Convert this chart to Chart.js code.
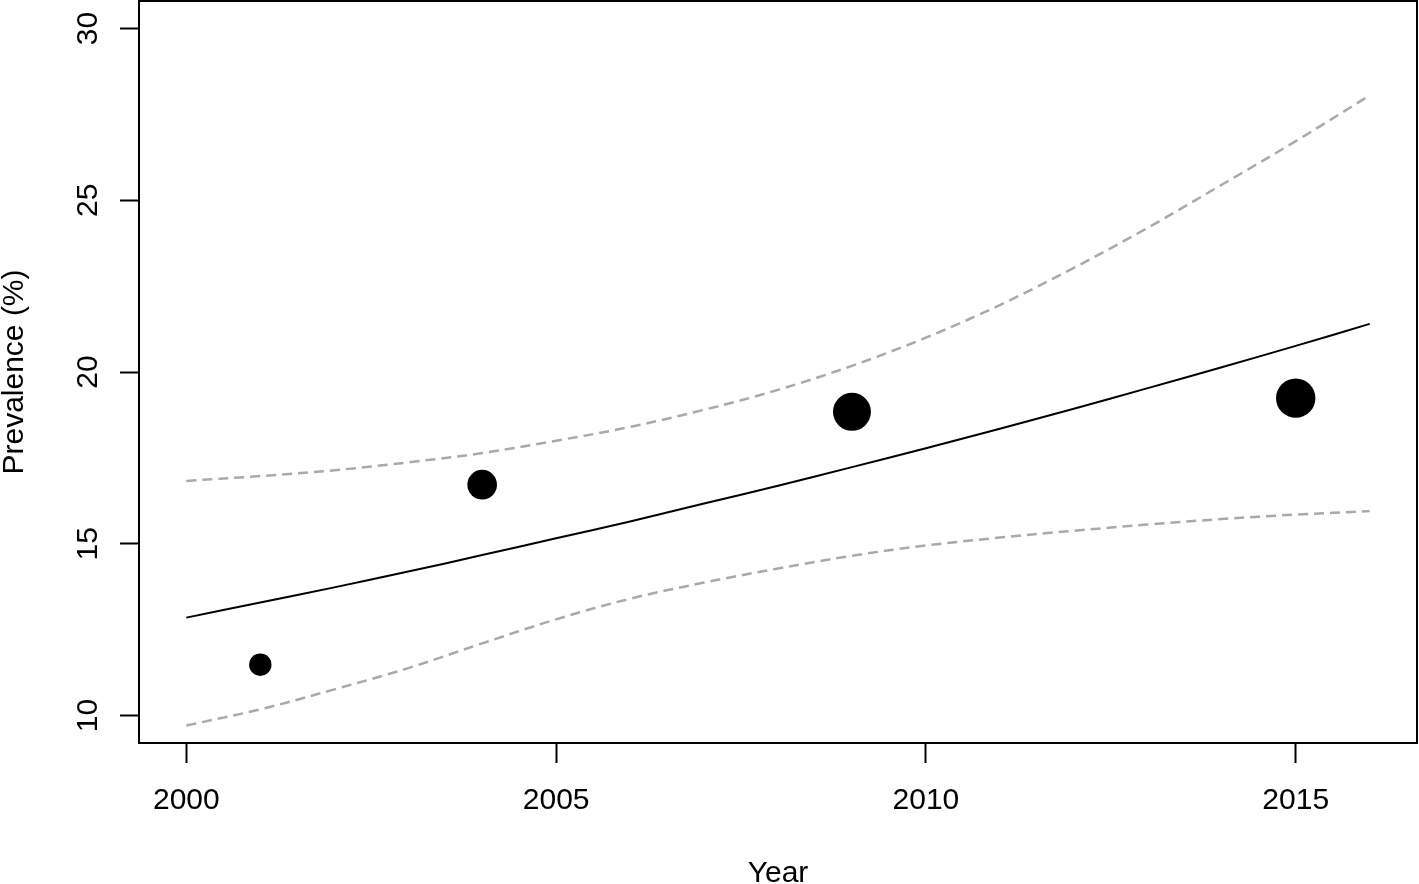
<!DOCTYPE html>
<html>
<head>
<meta charset="utf-8">
<title>Prevalence by year</title>
<script src="https://cdn.jsdelivr.net/npm/chart.js@4.4.1/dist/chart.umd.min.js"></script>
<style>
  html, body { margin: 0; padding: 0; background: #fff; }
  #wrap { width: 1419px; height: 884px; position: relative; }
</style>
</head>
<body>
<div id="wrap"><canvas id="chart"></canvas></div>
<script>
// values
const years = [2000, 2001, 2002, 2003, 2004, 2005, 2006, 2007, 2008, 2009, 2010, 2011, 2012, 2013, 2014, 2015, 2016];
const fitted = [12.85, 13.29, 13.73, 14.19, 14.67, 15.16, 15.65, 16.17, 16.69, 17.23, 17.78, 18.35, 18.93, 19.53, 20.14, 20.76, 21.40];
const upper = [16.83, 16.97, 17.14, 17.37, 17.64, 18.00, 18.40, 18.90, 19.48, 20.18, 21.00, 21.95, 23.03, 24.20, 25.45, 26.72, 28.05];
const lower = [9.71, 10.18, 10.76, 11.38, 12.10, 12.80, 13.40, 13.87, 14.28, 14.65, 14.95, 15.18, 15.38, 15.56, 15.72, 15.85, 15.95];

const surveyYears = [2001, 2004, 2009, 2015];
const surveyPrev = [11.48, 16.72, 18.84, 19.24];

const xTicks = [2000, 2005, 2010, 2015];
const yTicks = [10, 15, 20, 25, 30];

// marker radius (px) per survey point
const markerRadius = [11.2, 14.8, 19, 19.7];

Chart.defaults.font.family = '"Liberation Sans", Arial, Helvetica, sans-serif';
Chart.defaults.color = '#000';

function xy(xs, ys) {
  return xs.map(function (v, i) { return { x: v, y: ys[i] }; });
}

// drop the label overhang padding chart.js adds, so the plot box sits where R put it
function noOverhang(s) {
  s.paddingTop = 0; s.paddingBottom = 0; s.paddingLeft = 0; s.paddingRight = 0;
}

// full box round the plot region, like R's box()
const boxPlugin = {
  id: 'box',
  afterDraw: function (chart) {
    const a = chart.chartArea;
    const ctx = chart.ctx;
    ctx.save();
    ctx.strokeStyle = '#000';
    ctx.lineWidth = 2;
    ctx.strokeRect(a.left, a.top, a.right - a.left, a.bottom - a.top);
    ctx.restore();
  }
};

const fontTick = { size: 30 };
const dash = [10, 6];

new Chart(document.getElementById('chart'), {
  type: 'scatter',
  data: {
    datasets: [
      {
        label: 'Surveys', data: xy(surveyYears, surveyPrev),
        backgroundColor: '#000', borderColor: '#000', borderWidth: 0,
        pointRadius: markerRadius, pointHoverRadius: markerRadius, order: 0
      },
      {
        type: 'line', label: 'Fitted', data: xy(years, fitted),
        borderColor: '#000', borderWidth: 2, pointRadius: 0, tension: 0.35, fill: false, order: 1
      },
      {
        type: 'line', label: 'Upper', data: xy(years, upper),
        borderColor: '#a9a9a9', borderWidth: 2.5, borderDash: dash, pointRadius: 0, tension: 0.35, fill: false, order: 2
      },
      {
        type: 'line', label: 'Lower', data: xy(years, lower),
        borderColor: '#a9a9a9', borderWidth: 2.5, borderDash: dash, pointRadius: 0, tension: 0.35, fill: false, order: 3
      }
    ]
  },
  options: {
    responsive: true, maintainAspectRatio: false, animation: false,
    layout: { autoPadding: false, padding: { top: 1, right: 2, left: 0, bottom: 0 } },
    plugins: { legend: { display: false }, tooltip: { enabled: false } },
    scales: {
      x: {
        type: 'linear', min: 1999.36, max: 2016.64,
        afterBuildTicks: function (s) { s.ticks = xTicks.map(function (v) { return { value: v }; }); },
        afterFit: function (s) { s.height = 141; noOverhang(s); },
        border: { display: false },
        grid: { drawOnChartArea: false, drawTicks: true, tickLength: 20, tickColor: '#000', tickWidth: 2 },
        ticks: { font: fontTick, padding: 20, maxRotation: 0, callback: function (v) { return String(v); } },
        title: { display: true, text: 'Year', font: { size: 30, lineHeight: 0.7 }, padding: 0 }
      },
      y: {
        type: 'linear', min: 9.2, max: 30.8,
        afterBuildTicks: function (s) { s.ticks = yTicks.map(function (v) { return { value: v }; }); },
        afterFit: function (s) { s.width = 139; noOverhang(s); },
        border: { display: false },
        grid: { drawOnChartArea: false, drawTicks: true, tickLength: 19, tickColor: '#000', tickWidth: 2 },
        ticks: { font: fontTick, padding: 15, minRotation: 90, maxRotation: 90, crossAlign: 'center', callback: function (v) { return String(v); } },
        title: { display: true, text: 'Prevalence (%)', font: { size: 30, lineHeight: 1 }, padding: 0 }
      }
    }
  },
  plugins: [boxPlugin]
});
</script>
</body>
</html>
